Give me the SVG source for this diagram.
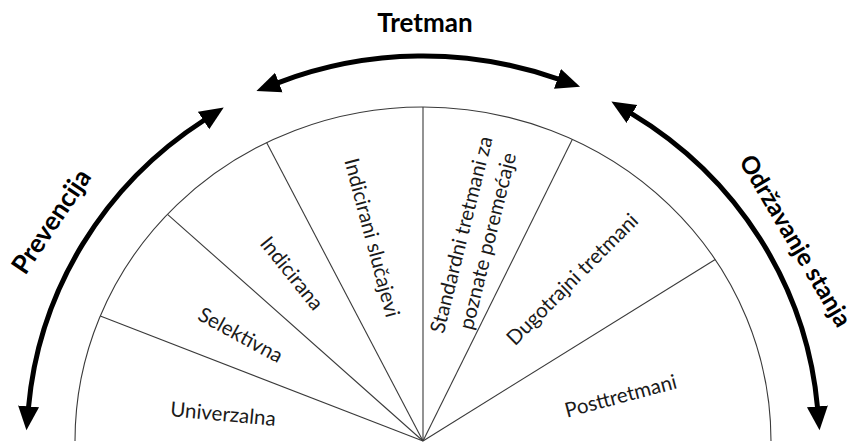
<svg xmlns="http://www.w3.org/2000/svg" width="860" height="442" viewBox="0 0 860 442">
  <style>
    .seg { fill: none; stroke: #3a3a3a; stroke-width: 1.1; }
    .arc { fill: none; stroke: #000; stroke-width: 5; }
    .lbl { font-family: Lato, "Open Sans", "Liberation Sans", sans-serif; font-size: 20.5px; fill: #1a1a1a; text-anchor: middle; }
    .big { font-family: Lato, "Open Sans", "Liberation Sans", sans-serif; font-size: 26px; font-weight: bold; fill: #000; text-anchor: middle; }
  </style>
  <defs>
    <marker id="ah" markerUnits="userSpaceOnUse" markerWidth="25" markerHeight="22" viewBox="0 -11 25 22" refX="1" refY="0" orient="auto-start-reverse">
      <path d="M0,-10.5 L24,0 L0,10.5 z" fill="#000"/>
    </marker>
  </defs>
  <rect width="860" height="442" fill="#fff"/>

  <g id="fan">
    <path class="seg" d="M75,441 A348,334 0 0 1 771,441"/>
    <line class="seg" x1="423" y1="441" x2="100.3" y2="316.1"/>
    <line class="seg" x1="423" y1="441" x2="167.5" y2="214.3"/>
    <line class="seg" x1="423" y1="441" x2="266.6" y2="142.6"/>
    <line class="seg" x1="423" y1="441" x2="423" y2="107"/>
    <line class="seg" x1="423" y1="441" x2="572.4" y2="139.3"/>
    <line class="seg" x1="423" y1="441" x2="715.2" y2="259.5"/>
  </g>

  <g id="connectors">
    <path id="arc-prevencija" class="arc" d="M28.5,407.4 A396,385 0 0 1 204.4,120" marker-start="url(#ah)" marker-end="url(#ah)"/>
    <path id="arc-tretman" class="arc" d="M277.9,82.8 A396,385 0 0 1 558.4,79.2" marker-start="url(#ah)" marker-end="url(#ah)"/>
    <path id="arc-odrzavanje" class="arc" d="M631.1,113.4 A396,385 0 0 1 817.5,407.4" marker-start="url(#ah)" marker-end="url(#ah)"/>
  </g>

  <g id="n-univerzalna"><text class="lbl" transform="translate(223,415) rotate(5.3)" x="0" y="6">Univerzalna</text></g>
  <g id="n-selektivna"><text class="lbl" transform="translate(240,336) rotate(28.6)" x="0" y="6">Selektivna</text></g>
  <g id="n-indicirana"><text class="lbl" transform="translate(291,274) rotate(51.2)" x="0" y="6">Indicirana</text></g>
  <g id="n-indicirani"><text class="lbl" transform="translate(371,238) rotate(75.1)" x="0" y="6">Indicirani slučajevi</text></g>
  <g id="n-standardni"><text class="lbl" transform="translate(475,238) rotate(-76)" x="0"><tspan x="0" y="-7">Standardni tretmani za</tspan><tspan x="0" y="20">poznate poremećaje</tspan></text></g>
  <g id="n-dugotrajni"><text class="lbl" transform="translate(573,280) rotate(-45)" x="0" y="6">Dugotrajni tretmani</text></g>
  <g id="n-posttretmani"><text class="lbl" transform="translate(621,397) rotate(-15)" x="0" y="6">Posttretmani</text></g>

  <g id="n-tretman"><text class="big" x="425" y="32">Tretman</text></g>
  <g id="n-prevencija"><text class="big" transform="translate(52,222) rotate(-56)" x="0" y="8">Prevencija</text></g>
  <g id="n-odrzavanje"><text class="big" style="font-size:24.5px" transform="translate(795,241) rotate(59.4)" x="0" y="8">Održavanje stanja</text></g>
</svg>
